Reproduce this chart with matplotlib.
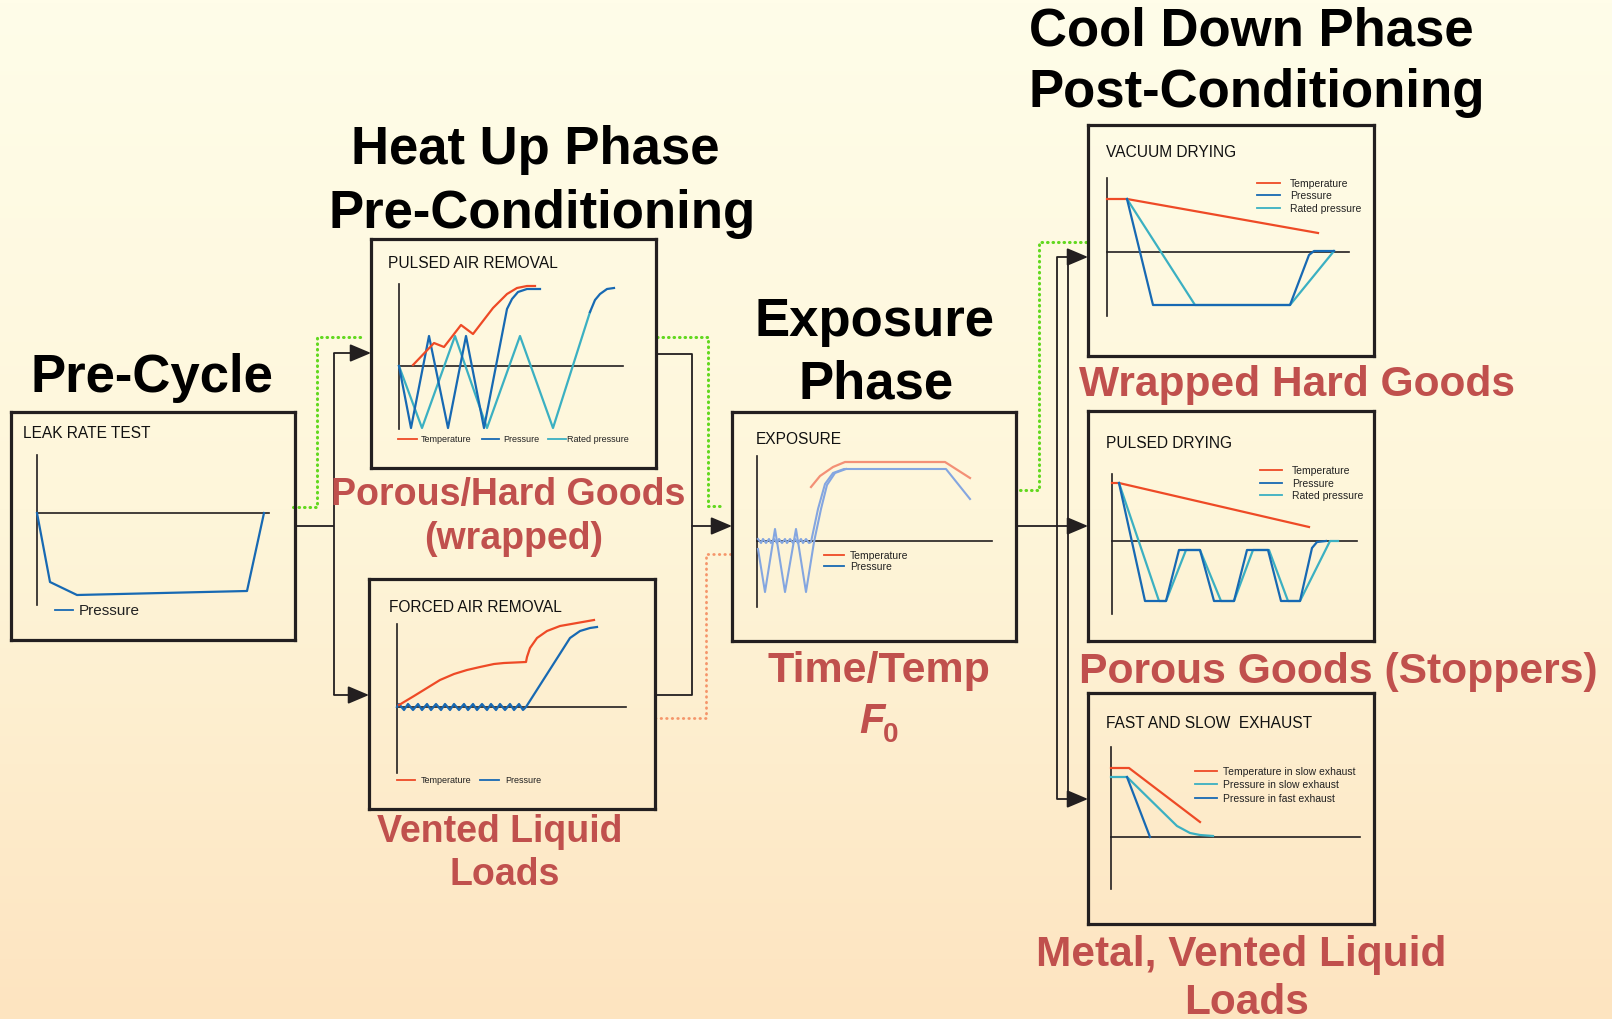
import numpy as np
import matplotlib
matplotlib.use("Agg")
from matplotlib import pyplot as plt
from matplotlib.colors import LinearSegmentedColormap

plt.rcParams['font.family'] = ['Liberation Sans', 'DejaVu Sans']

W, H = 1612, 1020

RED = '#ee4a26'
BLUE = '#1769b3'
TEAL = '#3bb0c2'
INK = '#231f20'
LABEL = '#c0504d'
GREEN = '#62d81e'
ORANGE = '#f5956a'

# ---- small charts: points in pixels, origin at the axis crossing, y up ----
# leak rate test
leak_x = [0, 13, 40, 210, 227]
leak_p = [0, -69, -82, -78, 0]

# pulsed air removal
par_temp_x = [14, 35, 45, 62, 74, 94, 108, 118, 128, 136]
par_temp_y = [1, 23, 19, 41, 32, 58, 72, 78, 80, 80]
par_pres_x = [0, 12, 30, 49, 67, 85, 108, 113, 119, 128, 141]
par_pres_y = [0, -62, 30, -62, 30, -62, 57, 67, 74, 77, 77]
par_rated_x = [0, 23, 56, 88, 121, 154, 191]
par_rated_y = [0, -62, 30, -62, 30, -62, 54]
par_tail_x = [191, 196, 201, 208, 215]
par_tail_y = [54, 66, 72, 77, 78]

# forced air removal
far_temp_x = [2, 17, 30, 43, 57, 70, 83, 97, 107, 129, 130, 133, 140, 150, 163, 180, 197]
far_temp_y = [2, 11, 19, 27, 33, 37, 40, 43, 44, 45, 50, 59, 69, 76, 81, 84, 87]
far_pres_x = [0, 2, 7, 11, 16, 21, 25, 30, 34, 39, 44, 48, 53, 57, 62, 67, 71, 76, 80,
              85, 90, 94, 99, 103, 108, 113, 117, 122, 126, 129, 173, 183, 193, 200]
far_pres_y = [0, 3, -3, 3, -3, 3, -3, 3, -3, 3, -3, 3, -3, 3, -3, 3, -3, 3, -3,
              3, -3, 3, -3, 3, -3, 3, -3, 3, -3, 0, 69, 76, 79, 80]

# exposure
exp_temp_x = [54, 63, 76, 88, 188, 213]
exp_temp_y = [54, 65, 74, 79, 79, 63]
exp_pres_x = [1, 4, 6, 9, 12, 14, 17, 20, 22, 25, 28, 30, 33, 36, 38, 41, 44, 46, 49, 52, 54,
              61, 68, 76, 87, 189, 213]
exp_pres_y = [2, -2, 2, -2, 2, -2, 2, -2, 2, -2, 2, -2, 2, -2, 2, -2, 2, -2, 2, -2, -1,
              32, 57, 68, 72, 72, 42]
exp_pulse_x = [1, 8, 18, 28, 39, 49, 57, 64, 70, 78, 89]
exp_pulse_y = [-8, -51, 12, -51, 12, -51, -1, 32, 56, 68, 72]

# vacuum drying
vac_temp_x = [0, 20, 211]
vac_temp_y = [53, 53, 19]
vac_pres_x = [20, 46, 183, 202, 207, 227]
vac_pres_y = [53, -53, -53, -3, 1, 1]
vac_rated_x = [20, 88, 183, 227]
vac_rated_y = [53, -53, -53, 1]

# pulsed drying
pd_temp_x = [0, 7, 197]
pd_temp_y = [58, 58, 14]
pd_pres_x = [7, 33, 54, 67, 88, 102, 122, 135, 156, 169, 188, 200, 205, 214]
pd_pres_y = [58, -60, -60, -9, -9, -60, -60, -9, -9, -60, -60, -7, -1, 0]
pd_rated_x = [7, 47, 54, 74, 88, 109, 122, 141, 157, 176, 188, 218, 226]
pd_rated_y = [58, -60, -60, -9, -9, -60, -60, -9, -9, -60, -60, 0, 0]

# fast and slow exhaust
fs_temp_x = [0, 18, 89]
fs_temp_y = [69, 69, 15]
fs_slow_x = [0, 16, 66, 79, 89, 102]
fs_slow_y = [60, 60, 11, 4, 2, 1]
fs_fast_x = [16, 39]
fs_fast_y = [60, 0]

fig = plt.figure(figsize=(W / 100, H / 100), dpi=100)
ax = fig.add_axes([0, 0, 1, 1])
ax.set_xlim(0, W)
ax.set_ylim(H, 0)
ax.axis('off')

# background gradient
bg = LinearSegmentedColormap.from_list('bg', ['#fffde9', '#fef6da', '#fde4c0'])
ax.imshow(np.linspace(0, 1, 256).reshape(-1, 1), cmap=bg, aspect='auto',
          extent=(0, W, H, 0), zorder=0)


def panel(box, origin, ax_x, ax_y, title, title_xy):
    x0, y0, x1, y1 = box
    ox, oy = origin
    a = fig.add_axes([x0 / W, 1 - y1 / H, (x1 - x0) / W, (y1 - y0) / H])
    a.set_xlim(x0 - ox, x1 - ox)
    a.set_ylim(oy - y1, oy - y0)
    a.patch.set_alpha(0)
    a.set_xticks([])
    a.set_yticks([])
    for s in a.spines.values():
        s.set_linewidth(2.3)
        s.set_color(INK)
    a.plot([0, 0], ax_y, color=INK, lw=1.2)
    a.plot([0, ax_x], [0, 0], color=INK, lw=1.2)
    a.text(title_xy[0], title_xy[1], title, fontsize=11.2, va='center', color='#111111')
    return a


def legend(a, x0, x1, xt, y, color, label, fs):
    a.plot([x0, x1], [y, y], color=color, lw=1.3)
    a.text(xt, y, label, fontsize=fs, va='center', color='#222222')


# leak rate test
a1 = panel((11, 413, 295, 641), (37, 514), 232, [58, -92], 'LEAK RATE TEST', (-14, 81))
a1.plot(leak_x, leak_p, color=BLUE, lw=1.6)
legend(a1, 18, 36, 42, -97, BLUE, 'Pressure', 11)

# pulsed air removal
a2 = panel((371, 240, 656, 469), (399, 367), 224, [82, -63], 'PULSED AIR REMOVAL', (-11, 103))
a2.plot(par_rated_x, par_rated_y, color=TEAL, lw=1.6)
a2.plot(par_pres_x, par_pres_y, color=BLUE, lw=1.6)
a2.plot(par_tail_x, par_tail_y, color=BLUE, lw=1.6)
a2.plot(par_temp_x, par_temp_y, color=RED, lw=1.6)
legend(a2, -1, 18, 22, -73, RED, 'Temperature', 6.5)
legend(a2, 83, 100, 104, -73, BLUE, 'Pressure', 6.5)
legend(a2, 149, 167, 168, -73, TEAL, 'Rated pressure', 6.5)

# forced air removal
a3 = panel((369, 580, 655, 810), (397, 708), 229, [83, -66], 'FORCED AIR REMOVAL', (-8, 100))
a3.plot(far_pres_x, far_pres_y, color=BLUE, lw=1.6)
a3.plot(far_temp_x, far_temp_y, color=RED, lw=1.6)
legend(a3, 0, 18, 24, -73, RED, 'Temperature', 6.5)
legend(a3, 83, 102, 108, -73, BLUE, 'Pressure', 6.5)

# exposure
a4 = panel((732, 413, 1016, 642), (757, 542), 235, [85, -66], 'EXPOSURE', (-1, 102))
a4.plot(exp_temp_x, exp_temp_y, color='#f39076', lw=1.6)
a4.plot(exp_pulse_x, exp_pulse_y, color='#84a6e0', lw=1.5)
a4.plot(exp_pres_x, exp_pres_y, color='#84a6e0', lw=1.5)
legend(a4, 67, 87, 93, -14, RED, 'Temperature', 7.5)
legend(a4, 67, 87, 93, -25, BLUE, 'Pressure', 7.5)

# vacuum drying
a5 = panel((1088, 126, 1374, 357), (1107, 253), 242, [74, -64], 'VACUUM DRYING', (-1, 100))
a5.plot(vac_temp_x, vac_temp_y, color=RED, lw=1.6)
a5.plot(vac_rated_x, vac_rated_y, color=TEAL, lw=1.6)
a5.plot(vac_pres_x, vac_pres_y, color=BLUE, lw=1.6)
legend(a5, 150, 173, 183, 69, RED, 'Temperature', 7.5)
legend(a5, 150, 173, 183, 57, BLUE, 'Pressure', 7.5)
legend(a5, 150, 173, 183, 44, TEAL, 'Rated pressure', 7.5)

# pulsed drying
a6 = panel((1088, 412, 1374, 642), (1112, 542), 245, [67, -73], 'PULSED DRYING', (-6, 99))
a6.plot(pd_temp_x, pd_temp_y, color=RED, lw=1.6)
a6.plot(pd_rated_x, pd_rated_y, color=TEAL, lw=1.6)
a6.plot(pd_pres_x, pd_pres_y, color=BLUE, lw=1.6)
legend(a6, 148, 170, 180, 71, RED, 'Temperature', 7.5)
legend(a6, 148, 170, 180, 58, BLUE, 'Pressure', 7.5)
legend(a6, 148, 170, 180, 46, TEAL, 'Rated pressure', 7.5)

# fast and slow exhaust
a7 = panel((1088, 694, 1374, 925), (1111, 838), 249, [90, -52], 'FAST AND SLOW  EXHAUST', (-5, 115))
a7.plot(fs_temp_x, fs_temp_y, color=RED, lw=1.6)
a7.plot(fs_slow_x, fs_slow_y, color=TEAL, lw=1.6)
a7.plot(fs_fast_x, fs_fast_y, color=BLUE, lw=1.6)
legend(a7, 84, 106, 112, 66, RED, 'Temperature in slow exhaust', 7.5)
legend(a7, 84, 106, 112, 53, TEAL, 'Pressure in slow exhaust', 7.5)
legend(a7, 84, 106, 112, 39, BLUE, 'Pressure in fast exhaust', 7.5)

# ---- connectors ----
def path(xs, ys, **kw):
    ax.plot(xs, ys, **kw)


def arrow(x0, x1, y):
    ax.annotate('', xy=(x1, y), xytext=(x0, y),
                arrowprops=dict(arrowstyle='-|>,head_length=1.3,head_width=0.55',
                                color=INK, lw=1.3, shrinkA=0, shrinkB=0))


line = dict(color=INK, lw=1.3, solid_capstyle='butt')
dot_g = dict(color=GREEN, lw=2.2, linestyle=(0, (0.2, 1.6)), dash_capstyle='round')
dot_o = dict(color=ORANGE, lw=2.0, linestyle=(0, (0.2, 1.8)), dash_capstyle='round')

path([295, 334], [527, 527], **line)
path([334, 334], [354, 696], **line)
arrow(334, 371, 354)
arrow(334, 369, 696)
path([293, 317, 317, 365], [508, 508, 338, 338], **dot_g)

path([656, 692, 692, 655], [355, 355, 696, 696], **line)
arrow(692, 732, 527)
path([657, 708, 708, 723], [338, 338, 507, 507], **dot_g)
path([655, 706, 706, 730], [719, 719, 555, 555], **dot_o)

path([1016, 1057], [527, 527], **line)
path([1068, 1057, 1057, 1068], [258, 258, 800, 800], **line)
path([1068, 1068], [258, 800], **line)
arrow(1068, 1088, 258)
arrow(1057, 1088, 527)
arrow(1068, 1088, 800)
path([1020, 1039, 1039, 1088], [491, 491, 243, 243], **dot_g)

# ---- headings ----
head = dict(fontsize=38, fontweight='bold', color='black', va='baseline')
ax.text(152, 392, 'Pre-Cycle', ha='center', **head)
ax.text(535, 164, 'Heat Up Phase', ha='center', **head)
ax.text(542, 228, 'Pre-Conditioning', ha='center', **head)
ax.text(875, 336, 'Exposure', ha='center', **head)
ax.text(876, 399, 'Phase', ha='center', **head)
ax.text(1029, 45, 'Cool Down Phase', ha='left', fontsize=38, fontweight='bold', va='baseline')
ax.text(1029, 107, 'Post-Conditioning', ha='left', fontsize=38, fontweight='bold', va='baseline')

lab = dict(fontweight='bold', color=LABEL, va='baseline')
ax.text(508, 505, 'Porous/Hard Goods', ha='center', fontsize=27, **lab)
ax.text(514, 549, '(wrapped)', ha='center', fontsize=27, **lab)
ax.text(500, 842, 'Vented Liquid', ha='center', fontsize=27, **lab)
ax.text(505, 885, 'Loads', ha='center', fontsize=27, **lab)
ax.text(879, 682, 'Time/Temp', ha='center', fontsize=31, **lab)
ax.text(872, 733, 'F', ha='center', fontsize=30, style='italic', **lab)
ax.text(891, 742, '0', ha='center', fontsize=20, **lab)
ax.text(1079, 396, 'Wrapped Hard Goods', ha='left', fontsize=30.6, **lab)
ax.text(1079, 683, 'Porous Goods (Stoppers)', ha='left', fontsize=30.7, **lab)
ax.text(1241, 966, 'Metal, Vented Liquid', ha='center', fontsize=30.5, **lab)
ax.text(1247, 1014, 'Loads', ha='center', fontsize=30.5, **lab)

fig.savefig('out.png', dpi=100)
